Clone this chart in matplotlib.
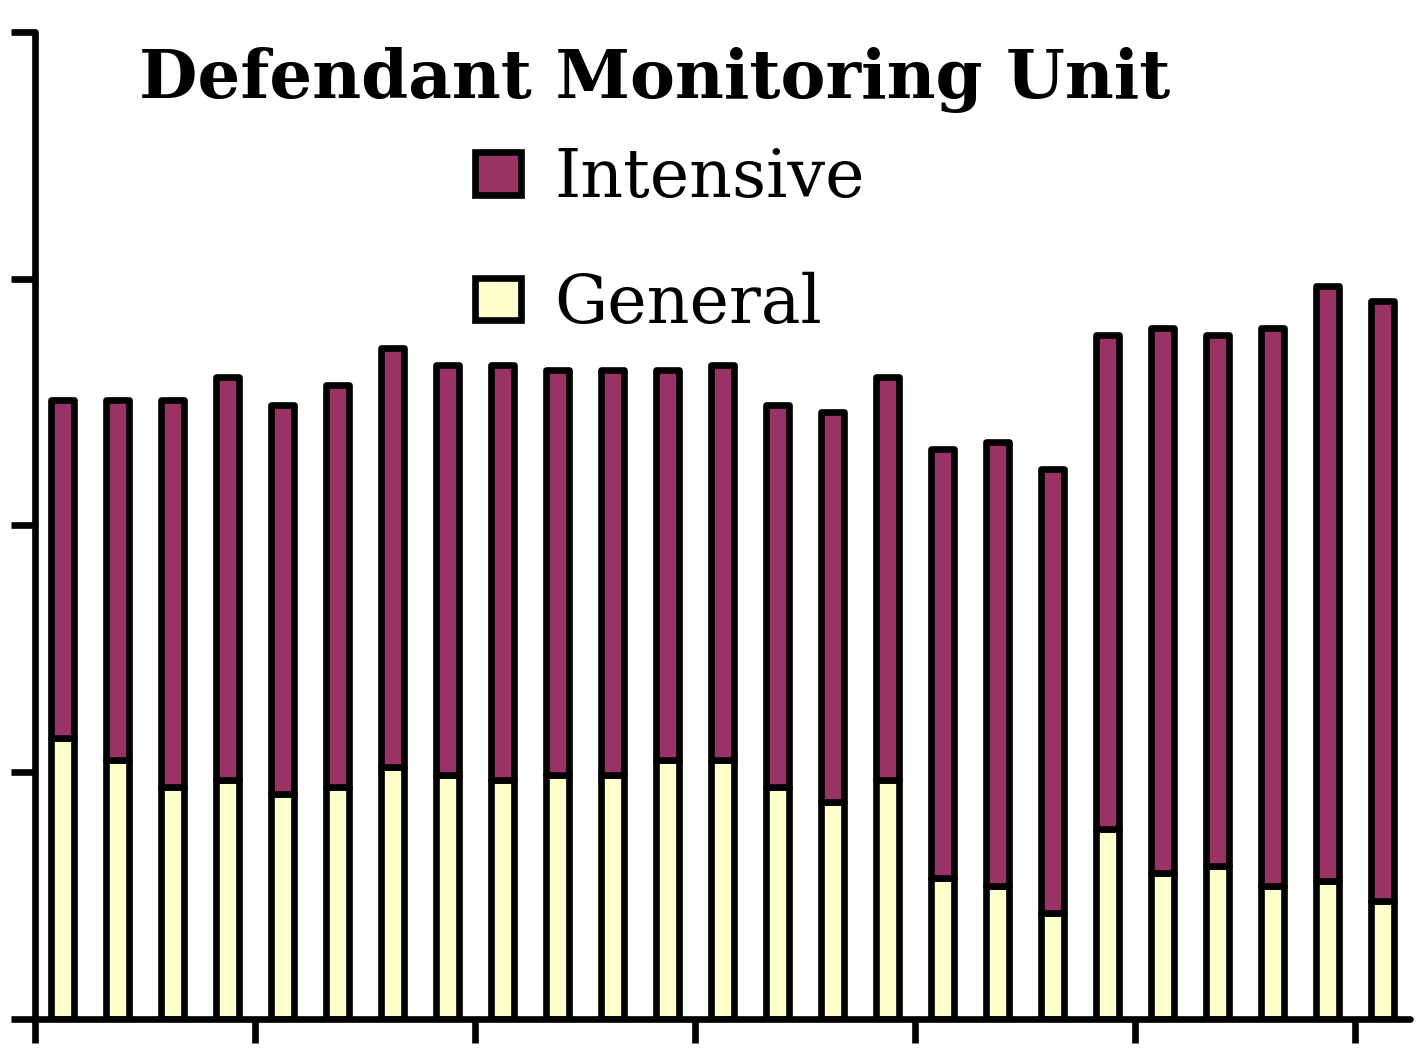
import matplotlib
matplotlib.use("Agg")
import matplotlib.pyplot as plt
import numpy as np
from matplotlib.patches import Patch

# values (axis units: ticks every 100)
periods = np.arange(1, 26)
total = [251, 251, 251, 260, 249, 257, 272, 265, 265, 263, 263, 263, 265,
         249, 246, 260, 231, 234, 223, 277, 280, 277, 280, 297, 291]
general = [114, 105, 94, 97, 91, 94, 102, 99, 97, 99, 99, 105, 105,
           94, 88, 97, 57, 54, 43, 77, 59, 62, 54, 56, 48]
intensive = [t - g for t, g in zip(total, general)]

intensive_color = "#993366"
general_color = "#FFFFCC"
lw = 4.8

fig = plt.figure(figsize=(14.19, 10.49), dpi=100)
ax = fig.add_axes([0.0247, 0.0286, 0.969, 0.941])

edge = dict(edgecolor="black", linewidth=lw, joinstyle="round")
ax.bar(periods, general, width=0.42, color=general_color, **edge)
ax.bar(periods, intensive, width=0.42, bottom=general, color=intensive_color, **edge)

ax.set_xlim(0.5, 25.5)
ax.set_ylim(0, 400)
ax.set_xticks(np.arange(0.5, 26, 4))
ax.set_yticks(np.arange(0, 401, 100))
ax.set_xticklabels([])
ax.set_yticklabels([])
ax.tick_params(direction="out", length=17, width=lw)
for side in ["top", "right"]:
    ax.spines[side].set_visible(False)
for side in ["left", "bottom"]:
    ax.spines[side].set_linewidth(lw)
    ax.spines[side].set_capstyle("round")

fig.text(0.4616, 0.924, "Defendant Monitoring Unit", ha="center", va="center",
         fontsize=48.5, fontweight="bold", family="DejaVu Serif")

handles = [Patch(facecolor=intensive_color, edgecolor="black", linewidth=lw),
           Patch(facecolor=general_color, edgecolor="black", linewidth=lw)]
fig.legend(handles, ["Intensive", "General"], loc="upper left",
           bbox_to_anchor=(0.311, 0.893), frameon=False,
           prop={"family": "DejaVu Serif", "size": 48},
           handlelength=0.7, handleheight=0.6, handletextpad=0.5,
           labelspacing=0.91, borderpad=0)

fig.savefig("out.png", dpi=100)
